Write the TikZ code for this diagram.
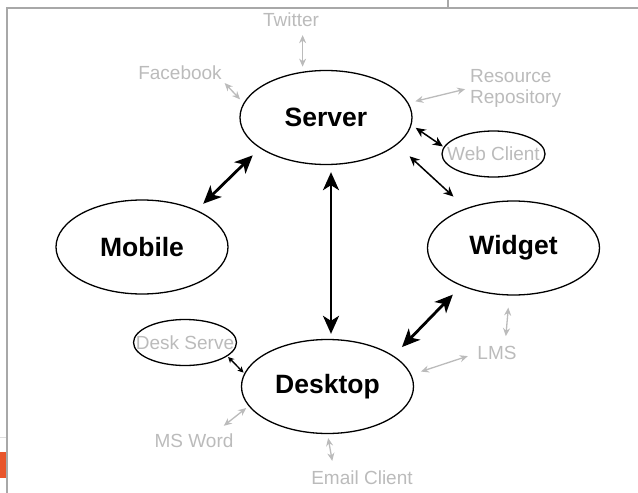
\documentclass[tikz,border=0pt]{standalone}
\usepackage{fontspec}
\setmainfont{Liberation Sans}
\usepackage{tikz}
\usetikzlibrary{shapes.geometric, arrows.meta}
\definecolor{faint}{HTML}{BBBBBB}
\definecolor{rule}{HTML}{A8A8A8}
\definecolor{tab}{HTML}{E8552B}
\tikzstyle{hub} = [ellipse, draw, line width=1.3pt, minimum width=172pt,
    minimum height=94pt, inner sep=0pt, font=\fontsize{26.5}{28}\selectfont\bfseries]
\tikzstyle{minor} = [ellipse, draw, line width=1.3pt, minimum width=103pt,
    minimum height=46pt, inner sep=0pt, text=faint, font=\fontsize{19}{21}\selectfont]
\tikzstyle{extra} = [text=faint, inner sep=0pt, font=\fontsize{19}{21}\selectfont]
\tikzstyle{biglink} = [draw, line width=2.8pt,
    {Stealth[length=18pt,width=16pt,inset=5pt]}-{Stealth[length=18pt,width=16pt,inset=5pt]}]
\tikzstyle{link} = [draw, line width=1.5pt, {Stealth[length=10pt,width=9pt]}-{Stealth[length=10pt,width=9pt]}]
\tikzstyle{smalllink} = [draw, line width=1.4pt, {Stealth[length=6pt,width=6pt]}-{Stealth[length=6pt,width=6pt]}]
\tikzstyle{greylink} = [draw, faint, line width=1.3pt, {Stealth[length=8pt,width=7pt]}-{Stealth[length=8pt,width=7pt]}]

\begin{document}
\begin{tikzpicture}[x=1pt, y=-1pt]
            \useasboundingbox (0,0) rectangle (638,493);
            % Slide frame
            \draw [rule, line width=1.5pt] (6,8) -- (638,8);
            \draw [rule, line width=1.5pt] (7,8) -- (7,493);
            \draw [rule, line width=1.5pt] (448,0) -- (448,8);
            \draw [gray!25] (0,437) -- (6,437);
            \fill [tab] (0,452) rectangle (6,478);
            % Place nodes
            \node [hub] (server) at (326,117.5) {Server};
            \node [hub] (mobile) at (142,247) {Mobile};
            \node [hub] (widget) at (513.5,248) {Widget};
            \node [hub] (desktop) at (327.5,386.5) {Desktop};
            \node [minor] (webclient) at (493.5,154) {\makebox[0pt]{Web Client}};
            \node [minor] (deskserve) at (185,342.5) {\makebox[0pt]{Desk Serve}};
            \node [extra] (twitter) at (291,20) {Twitter};
            \node [extra] (facebook) at (180,73) {Facebook};
            \node [extra, anchor=west, align=left] (resource) at (470,88) {Resource\\Repository};
            \node [extra] (lms) at (497,353) {LMS};
            \node [extra] (msword) at (194,441) {MS Word};
            \node [extra] (email) at (362,478) {Email Client};
            % Draw edges
            \path [greylink, shorten <=8pt, shorten >=5pt] (twitter.south -| server.117) -- (server.117);
            \path [greylink, shorten <=4pt, shorten >=5pt] (facebook.south east) -- (server.170);
            \path [greylink, shorten <=7pt, shorten >=5pt] (server.10) -- (resource.west);
            \path [link, shorten <=5pt, shorten >=1pt] (server.-5) -- (webclient.172);
            \path [link, shorten <=17pt, shorten >=17pt] (server.-21) -- (widget.140);
            \path [biglink, shorten <=10pt, shorten >=9pt] (server.205) -- (mobile.34);
            \path [biglink, shorten <=7pt, shorten >=5pt] ([xshift=5pt]server.south) -- ([xshift=3.5pt]desktop.north);
            \path [biglink, shorten <=12pt, shorten >=12pt] (widget.216) -- (desktop.25);
            \path [smalllink, shorten <=1pt, shorten >=1pt] (deskserve.-18) -- (desktop.171);
            \path [greylink, shorten <=12pt, shorten >=10pt] (widget.-95) -- ([xshift=8pt]lms.north);
            \path [greylink, shorten <=10pt, shorten >=10pt] (lms.west) -- (desktop.8);
            \path [greylink, shorten <=3pt, shorten >=13pt] (desktop.194) -- ([xshift=-20pt]msword.north east);
            \path [greylink, shorten <=4pt, shorten >=10pt] (desktop.south) -- ([xshift=-28pt]email.north);
        \end{tikzpicture}
\end{document}
